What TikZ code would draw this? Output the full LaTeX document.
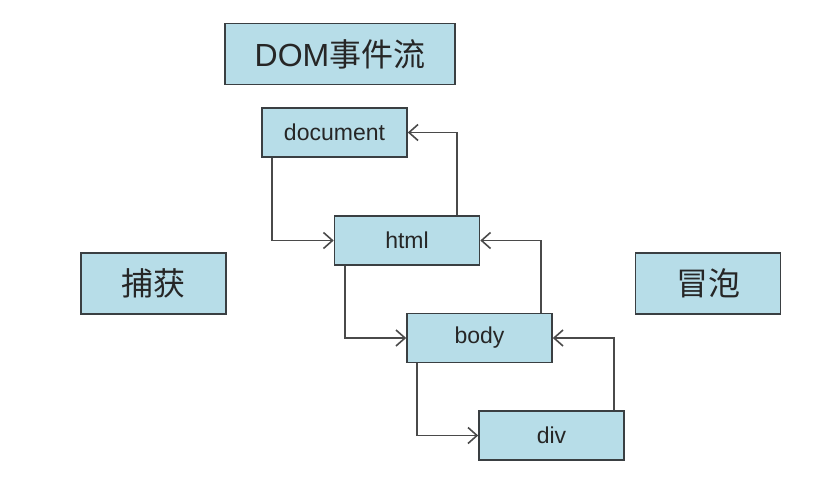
\documentclass[tikz,border=0pt]{standalone}
\usepackage{fontspec}
\setmainfont{Liberation Sans}
\newfontfamily\cjk{Noto Sans CJK SC}
\usetikzlibrary{arrows.meta}
\definecolor{boxfill}{HTML}{B7DDE8}
\definecolor{boxline}{HTML}{3A3F42}
\definecolor{flowline}{HTML}{4A4A4A}

\begin{document}
\begin{tikzpicture}[x=1pt,y=-1pt,
    box/.style={draw=boxline, fill=boxfill, line width=1.6pt, inner sep=0pt,
      minimum width=145pt, minimum height=49pt, text=black!85,
      font=\fontsize{23}{23}\selectfont},
    bigbox/.style={box, minimum height=61pt, font=\fontsize{32}{32}\selectfont},
    flow/.style={draw=flowline, line width=1.8pt,
      -{Straight Barb[length=9pt,width=16pt,line width=1.6pt]}}]
    \useasboundingbox (0,0) rectangle (825,492);
    \node[bigbox, minimum width=230pt] (title) at (340,54) {DOM{\cjk 事件流}};
    \node[bigbox] (capture) at (153.5,283.5) {\cjk 捕获};
    \node[bigbox] (bubble) at (708,283.5) {\cjk 冒泡};
    \node[box] (doc) at (334.5,132.5) {document};
    \node[box] (html) at (407,240.5) {html};
    \node[box] (body) at (479.5,338) {body};
    \node[box] (div) at (551.5,435.5) {div};
    % capture: down the left sides
    \draw[flow] ([xshift=11pt]doc.south west) |- (html.west);
    \draw[flow] ([xshift=11pt]html.south west) |- (body.west);
    \draw[flow] ([xshift=11pt]body.south west) |- (div.west);
    % bubble: up the right sides
    \draw[flow] ([xshift=-23pt]html.north east) |- (doc.east);
    \draw[flow] ([xshift=-12pt]body.north east) |- (html.east);
    \draw[flow] ([xshift=-11pt]div.north east) |- (body.east);
\end{tikzpicture}
\end{document}
